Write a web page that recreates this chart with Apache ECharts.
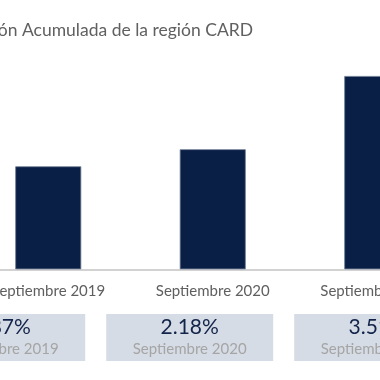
<!DOCTYPE html>
<html>
<head>
<meta charset="utf-8">
<script src="https://cdn.jsdelivr.net/npm/echarts@6/dist/echarts.min.js"></script>
<style>
html,body{margin:0;padding:0;background:#fff;}
#c{width:380px;height:380px;}
</style>
</head>
<body>
<div id="c"></div>
<script>
var title = 'Inflación Acumulada de la región CARD';
var categories = ['Septiembre 2019', 'Septiembre 2020', 'Septiembre 2021'];
var inflation = [1.87, 2.18, 3.51];

var FONT = 'Lato';
var chart = echarts.init(document.getElementById('c'), null, {renderer: 'canvas'});
chart.setOption({
  animation: false,
  backgroundColor: '#ffffff',
  title: {
    text: title,
    right: 122,
    top: 16,
    textStyle: {fontFamily: FONT, fontSize: 17.5, fontWeight: 'normal', color: '#606060'}
  },
  grid: [
    {left: -34, width: 493.5, top: 49, height: 220.3, containLabel: false, outerBoundsMode: 'none'},
    {left: -92.3, width: 564, top: 314, height: 47, containLabel: false, outerBoundsMode: 'none'}
  ],
  xAxis: [
    {
      type: 'category', gridIndex: 0, data: categories,
      axisLine: {show: true, lineStyle: {color: '#c3c3c3', width: 1.5}},
      axisTick: {show: false},
      axisLabel: {interval: 0, hideOverlap: false, margin: 14, fontFamily: FONT, fontSize: 15, color: '#5f5f5f'}
    },
    {
      type: 'category', gridIndex: 1, data: categories,
      show: false
    }
  ],
  yAxis: [
    {type: 'value', gridIndex: 0, min: 0, max: 4, show: false, splitLine: {show: false}},
    {type: 'value', gridIndex: 1, min: 0, max: 1, show: false, splitLine: {show: false}}
  ],
  series: [
    {
      type: 'bar', xAxisIndex: 0, yAxisIndex: 0,
      data: inflation,
      barWidth: 66,
      itemStyle: {color: '#0a1f45', borderColor: '#6d7b93', borderWidth: 0.8}
    },
    {
      type: 'bar', xAxisIndex: 1, yAxisIndex: 1,
      data: inflation.map(function (v) { return {value: 1, pct: v}; }),
      barWidth: 167,
      itemStyle: {color: '#d6dce5'},
      label: {
        show: true,
        position: 'inside',
        offset: [0, 1],
        formatter: function (p) {
          return '{v|' + inflation[p.dataIndex].toFixed(2) + '%}\n{d|' + categories[p.dataIndex] + '}';
        },
        rich: {
          v: {fontFamily: FONT, fontSize: 21, color: '#13244a', lineHeight: 22},
          d: {fontFamily: FONT, fontSize: 15, color: '#a5a5a5', lineHeight: 22}
        }
      }
    }
  ]
});
</script>
</body>
</html>
